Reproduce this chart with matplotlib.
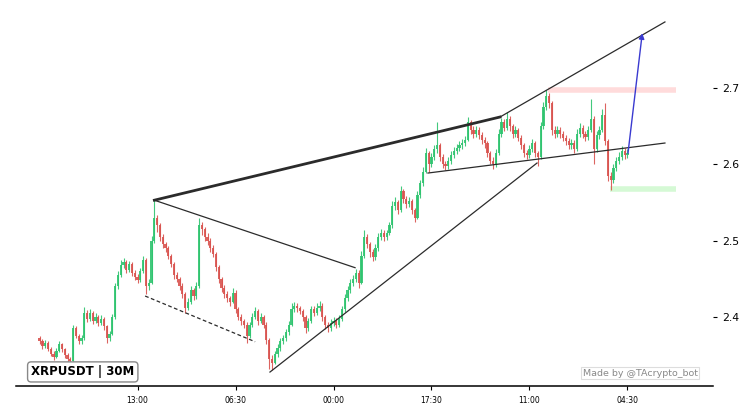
import matplotlib
matplotlib.use("Agg")
import matplotlib.pyplot as plt
import numpy as np

# XRPUSDT 30m candles (bar index 0..210)
first_open = 2.372
closes = [
    2.368, 2.362, 2.366, 2.358, 2.352, 2.348, 2.356, 2.364, 2.358, 2.350,
    2.345, 2.342, 2.385, 2.375, 2.368, 2.372, 2.405, 2.398, 2.405, 2.395,
    2.400, 2.392, 2.398, 2.388, 2.372, 2.378, 2.400, 2.440, 2.455, 2.468,
    2.472, 2.462, 2.470, 2.458, 2.452, 2.448, 2.460, 2.475, 2.440, 2.445,
    2.500, 2.530, 2.520, 2.505, 2.495, 2.490, 2.480, 2.470, 2.455, 2.450,
    2.440, 2.430, 2.412, 2.420, 2.435, 2.428, 2.440, 2.520, 2.515, 2.505,
    2.500, 2.490, 2.482, 2.465, 2.450, 2.438, 2.430, 2.425, 2.420, 2.432,
    2.410, 2.400, 2.395, 2.390, 2.375, 2.390, 2.400, 2.408, 2.395, 2.400,
    2.390, 2.370, 2.345, 2.340, 2.352, 2.360, 2.368, 2.372, 2.380, 2.390,
    2.410, 2.415, 2.412, 2.408, 2.400, 2.385, 2.395, 2.410, 2.405, 2.412,
    2.415, 2.400, 2.390, 2.385, 2.392, 2.395, 2.390, 2.398, 2.410, 2.425,
    2.435, 2.445, 2.450, 2.458, 2.445, 2.480, 2.505, 2.495, 2.485, 2.478,
    2.490, 2.505, 2.510, 2.505, 2.510, 2.520, 2.545, 2.550, 2.540, 2.565,
    2.555, 2.548, 2.552, 2.540, 2.530, 2.560, 2.575, 2.590, 2.615, 2.600,
    2.610, 2.620, 2.625, 2.610, 2.600, 2.598, 2.605, 2.612, 2.618, 2.622,
    2.625, 2.628, 2.632, 2.655, 2.645, 2.640, 2.645, 2.638, 2.632, 2.628,
    2.615, 2.605, 2.600, 2.615, 2.640, 2.655, 2.648, 2.660, 2.650, 2.640,
    2.645, 2.635, 2.625, 2.615, 2.612, 2.620, 2.628, 2.615, 2.610, 2.650,
    2.675, 2.690, 2.680, 2.645, 2.640, 2.645, 2.640, 2.635, 2.630, 2.625,
    2.628, 2.620, 2.640, 2.648, 2.640, 2.636, 2.645, 2.660, 2.620, 2.638,
    2.645, 2.665, 2.630, 2.585, 2.580, 2.595, 2.605, 2.610, 2.618, 2.612, 2.615,
]
highs = [
    2.375, 2.371, 2.370, 2.368, 2.361, 2.355, 2.360, 2.368, 2.366, 2.360,
    2.353, 2.348, 2.390, 2.388, 2.378, 2.376, 2.413, 2.409, 2.410, 2.408,
    2.405, 2.403, 2.402, 2.400, 2.390, 2.382, 2.404, 2.444, 2.460, 2.475,
    2.477, 2.475, 2.474, 2.472, 2.461, 2.456, 2.464, 2.480, 2.477, 2.450,
    2.506, 2.553, 2.534, 2.523, 2.509, 2.498, 2.493, 2.483, 2.472, 2.459,
    2.453, 2.444, 2.433, 2.425, 2.440, 2.438, 2.446, 2.530, 2.524, 2.518,
    2.510, 2.503, 2.494, 2.485, 2.468, 2.453, 2.442, 2.434, 2.428, 2.438,
    2.435, 2.413, 2.404, 2.398, 2.393, 2.394, 2.405, 2.413, 2.410, 2.405,
    2.403, 2.393, 2.372, 2.350, 2.356, 2.364, 2.372, 2.376, 2.384, 2.395,
    2.418, 2.420, 2.418, 2.415, 2.411, 2.403, 2.399, 2.415, 2.414, 2.418,
    2.421, 2.418, 2.403, 2.394, 2.397, 2.400, 2.399, 2.402, 2.414, 2.430,
    2.440, 2.450, 2.455, 2.463, 2.461, 2.486, 2.514, 2.509, 2.498, 2.489,
    2.495, 2.510, 2.515, 2.514, 2.514, 2.525, 2.552, 2.557, 2.553, 2.572,
    2.568, 2.559, 2.557, 2.555, 2.543, 2.565, 2.580, 2.596, 2.622, 2.618,
    2.615, 2.625, 2.655, 2.628, 2.613, 2.604, 2.610, 2.617, 2.623, 2.627,
    2.630, 2.633, 2.637, 2.662, 2.658, 2.650, 2.650, 2.649, 2.642, 2.636,
    2.631, 2.618, 2.609, 2.620, 2.646, 2.661, 2.659, 2.668, 2.663, 2.653,
    2.650, 2.648, 2.638, 2.628, 2.619, 2.625, 2.633, 2.631, 2.618, 2.656,
    2.681, 2.698, 2.694, 2.683, 2.650, 2.650, 2.649, 2.644, 2.639, 2.634,
    2.633, 2.632, 2.646, 2.654, 2.651, 2.644, 2.650, 2.685, 2.663, 2.643,
    2.650, 2.672, 2.680, 2.633, 2.590, 2.600, 2.610, 2.616, 2.624, 2.621, 2.620,
]
lows = [
    2.364, 2.358, 2.360, 2.355, 2.349, 2.344, 2.346, 2.354, 2.354, 2.346,
    2.340, 2.337, 2.340, 2.372, 2.364, 2.365, 2.370, 2.394, 2.395, 2.391,
    2.392, 2.388, 2.389, 2.383, 2.366, 2.368, 2.376, 2.398, 2.437, 2.452,
    2.464, 2.458, 2.459, 2.454, 2.448, 2.444, 2.446, 2.457, 2.430, 2.436,
    2.443, 2.497, 2.512, 2.500, 2.490, 2.485, 2.476, 2.465, 2.450, 2.446,
    2.435, 2.425, 2.405, 2.409, 2.417, 2.422, 2.424, 2.438, 2.508, 2.500,
    2.494, 2.485, 2.478, 2.460, 2.445, 2.433, 2.425, 2.420, 2.415, 2.418,
    2.405, 2.396, 2.390, 2.385, 2.366, 2.372, 2.387, 2.397, 2.390, 2.392,
    2.385, 2.364, 2.332, 2.330, 2.338, 2.348, 2.356, 2.364, 2.369, 2.377,
    2.388, 2.406, 2.407, 2.404, 2.395, 2.379, 2.382, 2.392, 2.401, 2.402,
    2.408, 2.395, 2.384, 2.381, 2.382, 2.388, 2.386, 2.387, 2.395, 2.407,
    2.421, 2.432, 2.441, 2.446, 2.438, 2.443, 2.477, 2.490, 2.479, 2.473,
    2.475, 2.487, 2.501, 2.500, 2.501, 2.507, 2.517, 2.540, 2.535, 2.537,
    2.549, 2.543, 2.544, 2.535, 2.524, 2.528, 2.556, 2.571, 2.588, 2.590,
    2.596, 2.606, 2.615, 2.604, 2.595, 2.592, 2.594, 2.601, 2.608, 2.614,
    2.617, 2.620, 2.624, 2.630, 2.640, 2.635, 2.636, 2.633, 2.627, 2.622,
    2.610, 2.600, 2.594, 2.597, 2.612, 2.636, 2.643, 2.645, 2.644, 2.634,
    2.636, 2.630, 2.620, 2.610, 2.607, 2.608, 2.616, 2.609, 2.598, 2.607,
    2.646, 2.671, 2.674, 2.638, 2.634, 2.636, 2.635, 2.630, 2.625, 2.620,
    2.620, 2.615, 2.617, 2.636, 2.635, 2.631, 2.632, 2.642, 2.600, 2.616,
    2.633, 2.642, 2.625, 2.578, 2.567, 2.576, 2.591, 2.601, 2.606, 2.607, 2.608,
]

tick_bars = [35, 70, 105, 140, 175, 210]
tick_labels = ["13:00", "06:30", "00:00", "17:30", "11:00", "04:30"]
price_ticks = [2.4, 2.5, 2.6, 2.7]

# drawn pattern lines: (bar, price) pairs
upper_thick = [(41, 2.553), (164.5, 2.662)]
upper_thin = [(164.5, 2.662), (223.4, 2.7865)]
apex_down = [(41, 2.553), (112.7, 2.4646)]
dashed_low = [(37.7, 2.4275), (77, 2.3676)]
rising = [(82.3, 2.3279), (177.7, 2.6017)]
middle = [(138.75, 2.5886), (223.4, 2.6279)]
arrow_from = (210.2, 2.6145)
arrow_to = (215.3, 2.7717)
resistance = (2.698, 181.6, 227.3)
support = (2.568, 203.75, 227.3)

GREEN = "#2ec46f"
RED = "#d9534f"

fig = plt.figure(figsize=(7.52, 4.17), dpi=100)
ax = fig.add_axes([0.021, 0.0743, 0.9265, 0.9137])

opens = [first_open] + closes[:-1]
x = np.arange(len(closes))
o = np.array(opens)
c = np.array(closes)
up = c >= o
cols = np.where(up, GREEN, RED)

ax.vlines(x, lows, highs, colors=cols, linewidth=0.8, alpha=0.9, zorder=2)
ax.bar(x, np.maximum(np.abs(c - o), 0.0015), bottom=np.minimum(o, c),
       width=0.8, color=cols, linewidth=0, alpha=0.9, zorder=3)

def seg(pts, **kw):
    (x0, y0), (x1, y1) = pts
    ax.plot([x0, x1], [y0, y1], clip_on=False, **kw)

seg(upper_thick, color="#2b2b2b", linewidth=2.0, zorder=4)
seg(upper_thin, color="#2b2b2b", linewidth=0.9, zorder=4)
seg(apex_down, color="#2b2b2b", linewidth=0.9, zorder=4)
seg(dashed_low, color="#2b2b2b", linewidth=0.9, linestyle=(0, (3, 2)), zorder=4)
seg(rising, color="#2b2b2b", linewidth=0.9, zorder=4)
seg(middle, color="#2b2b2b", linewidth=0.9, zorder=4)

ax.hlines(resistance[0], resistance[1], resistance[2], color="#ff9999",
          alpha=0.35, linewidth=4, zorder=1)
ax.hlines(support[0], support[1], support[2], color="#88ee88",
          alpha=0.35, linewidth=4, zorder=1)

ax.annotate("", xy=arrow_to, xytext=arrow_from,
            arrowprops=dict(arrowstyle="-|>", color="#3a3ad0", lw=1.0,
                            mutation_scale=8, shrinkA=0, shrinkB=0),
            zorder=5)

ax.set_xlim(-8.5, 240.4)
ax.set_ylim(2.3096, 2.8087)

for s in ["top", "left", "right"]:
    ax.spines[s].set_visible(False)
ax.spines["bottom"].set_linewidth(1.1)

ax.yaxis.tick_right()
ax.set_yticks(price_ticks)
ax.set_yticklabels([f"{p:.1f}" for p in price_ticks])
ax.tick_params(axis="y", length=3, width=0.8, labelsize=7.8, pad=4)
ax.set_xticks(tick_bars)
ax.set_xticklabels(tick_labels)
ax.tick_params(axis="x", length=3, width=0.8, labelsize=5.5, pad=4)

ax.text(0.022, 0.037, "XRPUSDT | 30M", transform=ax.transAxes,
        ha="left", va="center", fontsize=8.5, fontweight="bold",
        bbox=dict(boxstyle="round,pad=0.3", facecolor="white",
                  edgecolor="#888888", linewidth=1.0))
ax.text(0.896, 0.034, "Made by @TAcrypto_bot", transform=ax.transAxes,
        ha="center", va="center", fontsize=6.8, color="#888888",
        bbox=dict(boxstyle="square,pad=0.2", facecolor="white",
                  edgecolor="#dddddd", linewidth=0.8))

fig.savefig("out.png", dpi=100)
